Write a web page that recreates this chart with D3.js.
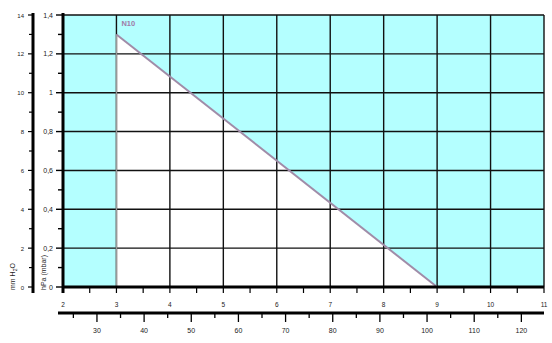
<!DOCTYPE html>
<html>
<head>
<meta charset="utf-8">
<script src="https://cdn.jsdelivr.net/npm/d3@7"></script>
<style>
  body { margin: 0; background: #fff; }
  svg { display: block; }
  text { font-family: "Liberation Sans", Arial, sans-serif; fill: #222; }
</style>
</head>
<body>
<svg id="chart" width="552" height="343"></svg>
<script>
// primary x (pressure chart, flow units) and the second scale below it
var xTicks = [2, 3, 4, 5, 6, 7, 8, 9, 10, 11];
var xDomain = [2, 11];
var flowTicks = [30, 40, 50, 60, 70, 80, 90, 100, 110, 120];
var flowDomain = [22.8, 124.8];

// hPa and mmH2O axes
var hpaTicks = [0, 0.2, 0.4, 0.6, 0.8, 1, 1.2, 1.4];
var hpaDomain = [0, 1.4];
var mmTicks = [0, 2, 4, 6, 8, 10, 12, 14];
var mmDomain = [0, 14];

// the N10 curve
var curveName = "N10";
var curveX = [3, 9];
var curveY = [1.3, 0];

var plotLeft = 63,
  plotRight = 544,
  plotTop = 15,
  plotBottom = 287;

var svg = d3.select("#chart");

var x = d3.scaleLinear().domain(xDomain).range([plotLeft, plotRight]);
var y = d3.scaleLinear().domain(hpaDomain).range([plotBottom, plotTop]);
var yMm = d3.scaleLinear().domain(mmDomain).range([plotBottom, plotTop]);
var xFlow = d3.scaleLinear().domain(flowDomain).range([plotLeft, plotRight]);

var fmt = function (d) {
  return String(d).replace(".", ",");
};

// background
svg
  .append("rect")
  .attr("x", x(xDomain[0]))
  .attr("y", y(hpaDomain[1]))
  .attr("width", x(xDomain[1]) - x(xDomain[0]))
  .attr("height", y(hpaDomain[0]) - y(hpaDomain[1]))
  .attr("fill", "#b4ffff");

// white region under the curve
var pts = curveX.map((d, i) => [x(d), y(curveY[i])]);
pts.push([x(curveX[0]), y(0)]);
svg
  .append("polygon")
  .attr("points", pts.map((p) => p.join(",")).join(" "))
  .attr("fill", "#fff");

// grid
var grid = svg.append("g").attr("stroke", "#111").attr("stroke-width", 1.4);
grid
  .selectAll("line.v")
  .data(xTicks.slice(1))
  .join("line")
  .attr("class", "v")
  .attr("x1", (d) => x(d))
  .attr("x2", (d) => x(d))
  .attr("y1", y(hpaDomain[1]))
  .attr("y2", y(0));
grid
  .selectAll("line.h")
  .data(hpaTicks.slice(1))
  .join("line")
  .attr("class", "h")
  .attr("x1", x(xDomain[0]))
  .attr("x2", x(xDomain[1]))
  .attr("y1", (d) => y(d))
  .attr("y2", (d) => y(d));

// curve edge and line
svg
  .append("line")
  .attr("x1", x(curveX[0]))
  .attr("x2", x(curveX[0]))
  .attr("y1", y(curveY[0]))
  .attr("y2", y(0))
  .attr("stroke", "#999")
  .attr("stroke-width", 1.4);

svg
  .append("path")
  .datum(curveX.map((d, i) => [d, curveY[i]]))
  .attr("fill", "none")
  .attr("stroke", "#a08ca8")
  .attr("stroke-width", 2)
  .attr(
    "d",
    d3
      .line()
      .x((d) => x(d[0]))
      .y((d) => y(d[1]))
  );

svg
  .append("text")
  .attr("x", x(curveX[0]) + 5)
  .attr("y", y(1.4) + 11)
  .attr("font-size", 7.5)
  .attr("font-weight", "bold")
  .style("fill", "#a07ca8")
  .text(curveName);

// hPa axis
var hpaAxis = svg.append("g").attr("transform", `translate(${plotLeft},0)`);
hpaAxis
  .append("line")
  .attr("y1", plotTop - 2)
  .attr("y2", plotBottom + 6)
  .attr("stroke", "#000")
  .attr("stroke-width", 3);
hpaAxis
  .selectAll("line.t")
  .data(hpaTicks)
  .join("line")
  .attr("class", "t")
  .attr("x1", -7)
  .attr("x2", 0)
  .attr("y1", (d) => y(d))
  .attr("y2", (d) => y(d))
  .attr("stroke", "#000")
  .attr("stroke-width", 1.4);
hpaAxis
  .selectAll("line.m")
  .data(d3.range(0.1, 1.4, 0.2))
  .join("line")
  .attr("class", "m")
  .attr("x1", -5)
  .attr("x2", 0)
  .attr("y1", (d) => y(d))
  .attr("y2", (d) => y(d))
  .attr("stroke", "#000")
  .attr("stroke-width", 1.4);
hpaAxis
  .selectAll("text")
  .data(hpaTicks)
  .join("text")
  .attr("x", -10)
  .attr("y", (d) => y(d) + 2.5)
  .attr("text-anchor", "end")
  .attr("font-size", 7)
  .text(fmt);

// mmH2O axis
var mmX = 33;
var mmAxis = svg.append("g").attr("transform", `translate(${mmX},0)`);
mmAxis
  .append("line")
  .attr("y1", plotTop - 2)
  .attr("y2", plotBottom + 6)
  .attr("stroke", "#000")
  .attr("stroke-width", 3);
mmAxis
  .selectAll("line.t")
  .data(mmTicks)
  .join("line")
  .attr("class", "t")
  .attr("x1", -5)
  .attr("x2", 0)
  .attr("y1", (d) => yMm(d))
  .attr("y2", (d) => yMm(d))
  .attr("stroke", "#000")
  .attr("stroke-width", 1.2);
mmAxis
  .selectAll("line.m")
  .data(d3.range(1, 14, 2))
  .join("line")
  .attr("class", "m")
  .attr("x1", -4)
  .attr("x2", 0)
  .attr("y1", (d) => yMm(d))
  .attr("y2", (d) => yMm(d))
  .attr("stroke", "#000")
  .attr("stroke-width", 1.2);
mmAxis
  .selectAll("text")
  .data(mmTicks)
  .join("text")
  .attr("x", -9)
  .attr("y", (d) => yMm(d) + 2.5)
  .attr("text-anchor", "end")
  .attr("font-size", 6)
  .text((d) => d);

// axis titles
var t1 = svg
  .append("text")
  .attr("transform", `translate(15,${plotBottom + 3}) rotate(-90)`)
  .attr("font-size", 7);
t1.append("tspan").text("mm H");
t1.append("tspan").attr("dy", 2).attr("font-size", 5).text("2");
t1.append("tspan").attr("dy", -2).text("O");

svg
  .append("text")
  .attr("transform", `translate(46,${plotBottom + 3}) rotate(-90)`)
  .attr("font-size", 7)
  .text("hPa (mbar)");

// x axis
var xAxis = svg.append("g").attr("transform", `translate(0,${plotBottom})`);
xAxis
  .selectAll("line.t")
  .data(d3.range(2.5, 11.01, 0.5))
  .join("line")
  .attr("class", "t")
  .attr("x1", (d) => x(d))
  .attr("x2", (d) => x(d))
  .attr("y1", 0)
  .attr("y2", 6)
  .attr("stroke", "#000")
  .attr("stroke-width", 1.2);
xAxis
  .append("line")
  .attr("x1", plotLeft)
  .attr("x2", plotRight)
  .attr("stroke", "#000")
  .attr("stroke-width", 3);
xAxis
  .selectAll("text")
  .data(xTicks)
  .join("text")
  .attr("x", (d) => x(d))
  .attr("y", 20)
  .attr("text-anchor", "middle")
  .attr("font-size", 6.5)
  .text((d) => d);

// second flow axis
var flowY = 313;
var flowAxis = svg.append("g").attr("transform", `translate(0,${flowY})`);
flowAxis
  .append("line")
  .attr("x1", 58)
  .attr("x2", plotRight)
  .attr("stroke", "#000")
  .attr("stroke-width", 3);
flowAxis
  .selectAll("line.t")
  .data(flowTicks)
  .join("line")
  .attr("class", "t")
  .attr("x1", (d) => xFlow(d))
  .attr("x2", (d) => xFlow(d))
  .attr("y1", 0)
  .attr("y2", 9)
  .attr("stroke", "#000")
  .attr("stroke-width", 1.3);
flowAxis
  .selectAll("line.m")
  .data(d3.range(25, 121, 10))
  .join("line")
  .attr("class", "m")
  .attr("x1", (d) => xFlow(d))
  .attr("x2", (d) => xFlow(d))
  .attr("y1", 0)
  .attr("y2", 5)
  .attr("stroke", "#000")
  .attr("stroke-width", 1.3);
flowAxis
  .selectAll("text")
  .data(flowTicks)
  .join("text")
  .attr("x", (d) => xFlow(d))
  .attr("y", 20)
  .attr("text-anchor", "middle")
  .attr("font-size", 7)
  .text((d) => d);
</script>
</body>
</html>
